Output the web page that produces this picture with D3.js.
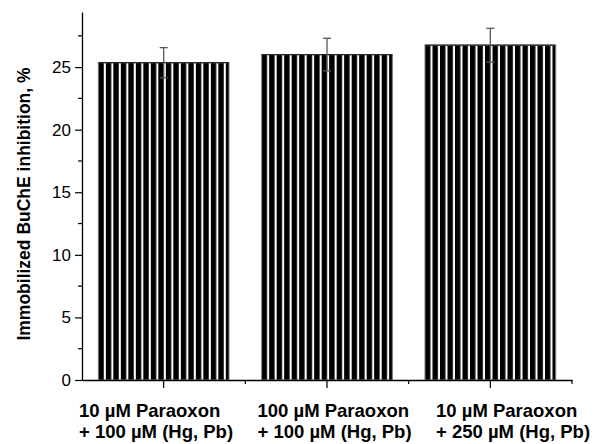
<!DOCTYPE html>
<html>
<head>
<meta charset="utf-8">
<script src="https://cdnjs.cloudflare.com/ajax/libs/d3/7.8.5/d3.min.js"></script>
<style>
  body { margin: 0; background: #fff; }
  svg { display: block; font-family: "Liberation Sans", Arial, sans-serif; }
</style>
</head>
<body>
<div id="chart"></div>
<script>
// Data
const categories = ["A", "B", "C"];
const labelLine1 = ["10 \u00b5M Paraoxon", "100 \u00b5M Paraoxon", "10 \u00b5M Paraoxon"];
const labelLine2 = ["+ 100 \u00b5M (Hg, Pb)", "+ 100 \u00b5M (Hg, Pb)", "+ 250 \u00b5M (Hg, Pb)"];
const values = [25.35, 26.0, 26.75];
const errors = [1.2, 1.3, 1.35];
const yTicks = [0, 5, 10, 15, 20, 25];
const yMinor = [2.5, 7.5, 12.5, 17.5, 22.5, 27.5];

const W = 598, H = 444;
const plotLeft = 82, plotRight = 572, plotTop = 12, plotBottom = 380;

const svg = d3.select("#chart").append("svg")
    .attr("width", W)
    .attr("height", H);

const x = d3.scaleBand()
    .domain(categories)
    .range([plotLeft, plotRight])
    .paddingInner(0.2)
    .paddingOuter(0.1);

const y = d3.scaleLinear()
    .domain([0, 29.4])
    .range([plotBottom, plotTop]);

// stripe patterns, one per bar so stripes start at the bar's left edge
const defs = svg.append("defs");
categories.forEach((c, i) => {
    const p = defs.append("pattern")
        .attr("id", "stripes" + i)
        .attr("patternUnits", "userSpaceOnUse")
        .attr("x", x(c))
        .attr("y", 0)
        .attr("width", 7.5)
        .attr("height", 10);
    p.append("rect").attr("width", 7.5).attr("height", 10).attr("fill", "#fff");
    p.append("rect").attr("width", 5.4).attr("height", 10).attr("fill", "#000");
});

// bars
svg.selectAll(".bar")
    .data(values)
    .enter().append("rect")
    .attr("class", "bar")
    .attr("x", (d, i) => x(categories[i]))
    .attr("y", d => y(d))
    .attr("width", x.bandwidth())
    .attr("height", d => y(0) - y(d))
    .attr("fill", (d, i) => `url(#stripes${i})`)
    .attr("stroke", "#777")
    .attr("stroke-width", 1);

// bar top edges
svg.selectAll(".bartop")
    .data(values)
    .enter().append("line")
    .attr("x1", (d, i) => x(categories[i]))
    .attr("x2", (d, i) => x(categories[i]) + x.bandwidth())
    .attr("y1", d => y(d))
    .attr("y2", d => y(d))
    .attr("stroke", "#222")
    .attr("stroke-width", 1.2);

// error bars
const cx = (i) => x(categories[i]) + x.bandwidth() / 2;
const err = svg.selectAll(".err")
    .data(values)
    .enter().append("g")
    .attr("class", "err")
    .attr("stroke", "#555")
    .attr("stroke-width", 1.3);
err.append("line")
    .attr("x1", (d, i) => cx(i)).attr("x2", (d, i) => cx(i))
    .attr("y1", (d, i) => y(d + errors[i]))
    .attr("y2", (d, i) => y(d - errors[i]));
err.append("line")
    .attr("x1", (d, i) => cx(i) - 4).attr("x2", (d, i) => cx(i) + 4)
    .attr("y1", (d, i) => y(d + errors[i]))
    .attr("y2", (d, i) => y(d + errors[i]));
err.append("line")
    .attr("x1", (d, i) => cx(i) - 4).attr("x2", (d, i) => cx(i) + 4)
    .attr("y1", (d, i) => y(d - errors[i]))
    .attr("y2", (d, i) => y(d - errors[i]));

// y axis
const yAxis = svg.append("g")
    .attr("transform", `translate(${plotLeft},0)`)
    .call(d3.axisLeft(y).tickValues(yTicks).tickSize(7).tickPadding(4).tickSizeOuter(0));
yAxis.selectAll("text")
    .attr("font-size", 17)
    .attr("font-family", "Liberation Sans, Arial, sans-serif")
    .attr("fill", "#000");
yAxis.select(".domain").attr("stroke", "#000").attr("stroke-width", 1.3);
yAxis.selectAll(".tick line").attr("stroke", "#000").attr("stroke-width", 1.2);

svg.append("g")
    .selectAll("line")
    .data(yMinor)
    .enter().append("line")
    .attr("x1", plotLeft - 4).attr("x2", plotLeft)
    .attr("y1", d => y(d)).attr("y2", d => y(d))
    .attr("stroke", "#000").attr("stroke-width", 1.2);

// x axis
const xAxis = svg.append("g")
    .attr("transform", `translate(0,${plotBottom})`)
    .call(d3.axisBottom(x).tickSize(8).tickSizeOuter(0).tickFormat(""));
xAxis.select(".domain").attr("stroke", "#000").attr("stroke-width", 1.3);
xAxis.selectAll(".tick line").attr("stroke", "#000").attr("stroke-width", 1.2);

// minor ticks at category boundaries
svg.append("g")
    .selectAll("line")
    .data(categories.map((c, i) => plotLeft + x.step() * (i + 1)))
    .enter().append("line")
    .attr("x1", d => d).attr("x2", d => d)
    .attr("y1", plotBottom).attr("y2", plotBottom + 4)
    .attr("stroke", "#000").attr("stroke-width", 1.2);

// category labels: left-aligned two-line blocks, spread evenly under the axis
const labelStep = 178.5;
const labelX = i => plotLeft - 3 + i * labelStep;
const lab = svg.append("g")
    .attr("font-size", 18.5)
    .attr("font-weight", "bold")
    .attr("text-anchor", "start")
    .attr("fill", "#000");
lab.selectAll(".l1")
    .data(labelLine1)
    .enter().append("text")
    .attr("x", (d, i) => labelX(i))
    .attr("y", 417)
    .text(d => d);
lab.selectAll(".l2")
    .data(labelLine2)
    .enter().append("text")
    .attr("x", (d, i) => labelX(i))
    .attr("y", 438)
    .text(d => d);

// y label
svg.append("text")
    .attr("transform", `translate(30,204) rotate(-90)`)
    .attr("text-anchor", "middle")
    .attr("font-size", 17.5)
    .attr("font-weight", "bold")
    .attr("fill", "#000")
    .text("Immobilized BuChE inhibition, %");
</script>
</body>
</html>
